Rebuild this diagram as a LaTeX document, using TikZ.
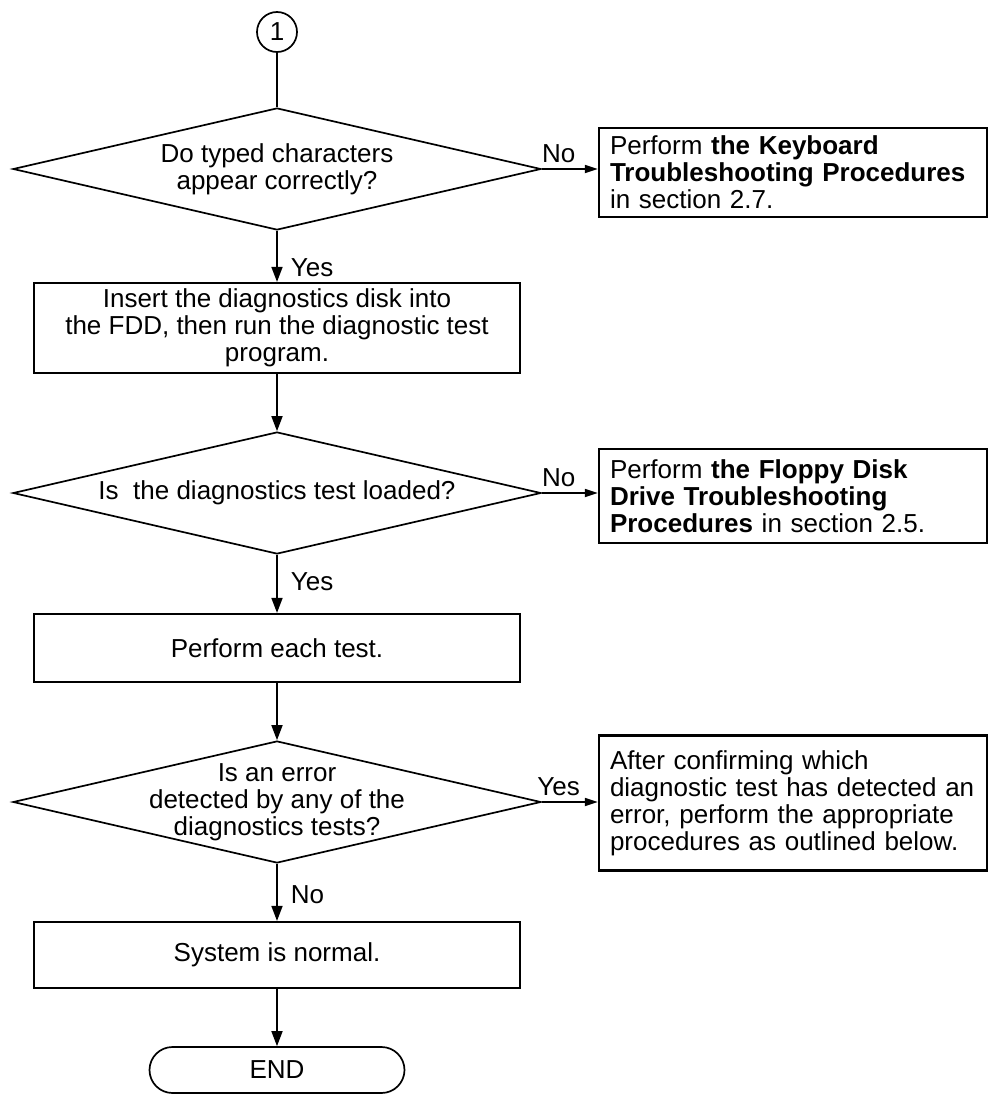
\documentclass[tikz,border=0pt]{standalone}
\usepackage{fontspec}
\setmainfont{Liberation Sans}
\usetikzlibrary{arrows.meta}
\usetikzlibrary{shapes.geometric}
\usetikzlibrary{shapes.misc}

\begin{document}
\begin{tikzpicture}[x=1pt, y=-1pt, line width=1.7pt,
    font=\fontsize{26}{27}\selectfont,
    decision/.style={draw, diamond, inner sep=0pt, minimum width=528pt, minimum height=122pt},
    stepbox/.style={draw, line width=2.2pt, rectangle, align=center, minimum width=486pt},
    sidebox/.style={draw, line width=2.2pt, rectangle, align=left, text width=366pt, inner xsep=11pt},
    tag/.style={inner sep=1pt},
    flow/.style={-{Triangle[length=15pt, width=11pt]}},
    side/.style={-{Triangle[length=13pt, width=8pt]}}]
    \useasboundingbox (0, 0) rectangle (990, 1095);
    % main column
    \node[draw, circle, minimum size=40pt, inner sep=0pt] (start) at (277, 32) {1};
    \node[decision, label={[align=center]center:Do typed characters\\appear correctly?}] (q1) at (277, 169) {};
    \node[stepbox, minimum height=90pt] (insert) at (277, 328) {Insert the diagnostics disk into\\the FDD, then run the diagnostic test\\program.};
    \node[decision, label={center:Is\ \ the diagnostics test loaded?}] (q2) at (277, 493) {};
    \node[stepbox, minimum height=68pt] (each) at (277, 648) {Perform each test.};
    \node[decision, label={[align=center]center:Is an error\\detected by any of the\\diagnostics tests?}] (q3) at (277, 802) {};
    \node[stepbox, minimum height=66pt] (normal) at (277, 955) {System is normal.};
    \node[draw, rounded rectangle, minimum width=255pt, minimum height=46pt, inner sep=0pt] (end) at (277, 1070) {END};
    % side boxes
    \node[sidebox, minimum height=89pt] (kbd) at (793, 172.5) {Perform \textbf{the Keyboard}\\\textbf{Troubleshooting Procedures}\\in section 2.7.};
    \node[sidebox, minimum height=94pt] (fdd) at (793, 496) {Perform \textbf{the Floppy Disk}\\\textbf{Drive Troubleshooting}\\\textbf{Procedures} in section 2.5.};
    \node[sidebox, minimum height=135pt] (err) at (793, 803) {After confirming which\\diagnostic test has detected an\\error, perform the appropriate\\procedures as outlined below.};
    % connectors
    \draw (start.south) -- (q1.north);
    \draw[side] (q1.east) -- node[tag, above=4pt, pos=0.3] {No} (q1.east -| kbd.west);
    \draw[flow] (q1.south) -- node[tag, right=12pt, pos=0.72] {Yes} (insert.north);
    \draw[flow] (insert.south) -- (q2.north);
    \draw[side] (q2.east) -- node[tag, above=4pt, pos=0.3] {No} (q2.east -| fdd.west);
    \draw[flow] (q2.south) -- node[tag, right=12pt, pos=0.47] {Yes} (each.north);
    \draw[flow] (each.south) -- (q3.north);
    \draw[side] (q3.east) -- node[tag, above=4pt, pos=0.3] {Yes} (q3.east -| err.west);
    \draw[flow] (q3.south) -- node[tag, right=12pt, pos=0.54] {No} (normal.north);
    \draw[flow] (normal.south) -- (end.north);
\end{tikzpicture}
\end{document}
